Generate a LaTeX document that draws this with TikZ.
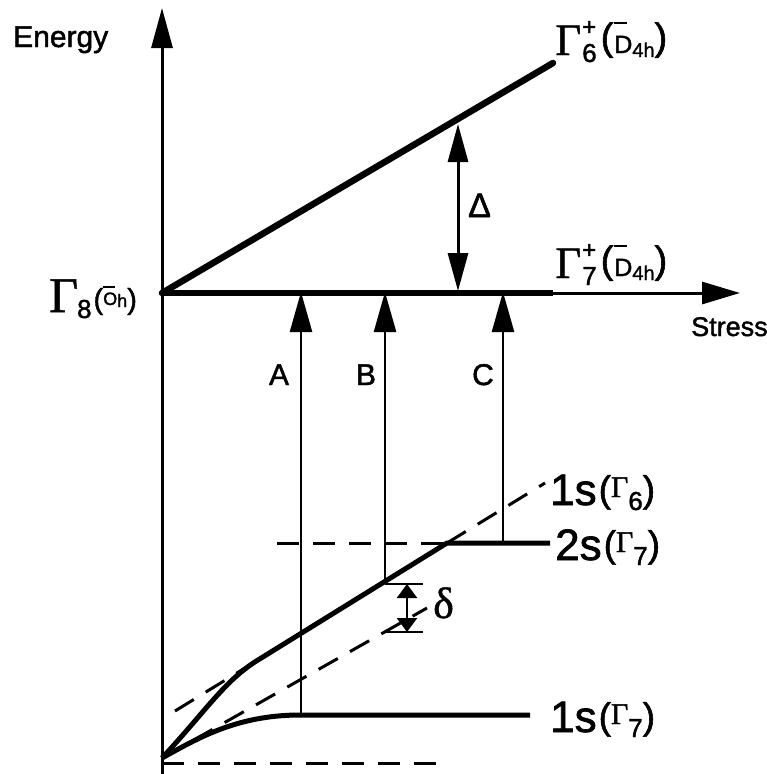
\documentclass[tikz,border=0pt]{standalone}
\usepackage{fontspec}
\setmainfont{Liberation Sans}[FakeBold=1.5]
\newfontfamily\serfont{Liberation Serif}[FakeBold=1]
\usetikzlibrary{arrows.meta}
\newcommand{\fs}[1]{\fontsize{#1pt}{#1pt}\selectfont}
\newcommand{\GamLbl}[1]{{\serfont\fs{45}Γ}\kern1pt\makebox[0pt][l]{\raisebox{20pt}{\fs{24}+}}\raisebox{-7pt}{\fs{26}#1}\kern4pt\raisebox{5pt}{\fs{38}(}\kern1pt\makebox[0pt][l]{\raisebox{31pt}{\rule{13pt}{2pt}}}\raisebox{2pt}{\fs{25}D}\raisebox{-2pt}{\fs{20}4h}\raisebox{5pt}{\fs{38})}}
\newcommand{\StLbl}[2]{{\fs{44}#1}\kern2pt\raisebox{3pt}{\fs{37}(}{\raisebox{8pt}{\serfont\fs{30}Γ}}\raisebox{-5pt}{\fs{26}#2}\raisebox{3pt}{\fs{37})}}
\begin{document}
\begin{tikzpicture}[x=1pt,y=-1pt,
  axis/.style={line width=3pt},
  thickline/.style={line width=6.5pt},
  curve/.style={line width=5pt,line join=round},
  dashline/.style={line width=3pt,dash pattern=on 22pt off 14pt},
  trans/.style={line width=2.5pt,-{Triangle[length=40pt,width=22pt]}},
  lbl/.style={inner sep=0pt,anchor=base west},
  clbl/.style={inner sep=0pt,anchor=base},
]
\useasboundingbox (0,0) rectangle (767,774);
% coordinates
\coordinate (O) at (162,293);
\coordinate (yb) at (162,774);
\coordinate (yt) at (162,8);
\coordinate (xt) at (740,293);
\coordinate (G6) at (553,63);
\coordinate (G7) at (553,293);
\coordinate (org) at (162,758);
\coordinate (D1) at (458,124);
\coordinate (D2) at (458,291);
\coordinate (La) at (175,711);
\coordinate (Lb) at (258,660);
\coordinate (Lc) at (447,543);
\coordinate (Ld) at (545,483);
\coordinate (S2a) at (277,543);
\coordinate (S2b) at (550,543);
\coordinate (low) at (427,608);
\coordinate (b1) at (162,763);
\coordinate (b2) at (445,763);
\coordinate (s1a) at (300,715);
\coordinate (s1b) at (530,715);
\coordinate (Aa) at (301,715);
\coordinate (Ab) at (301,292);
\coordinate (Ba) at (385,582);
\coordinate (Bb) at (385,292);
\coordinate (Ca) at (503,543);
\coordinate (Cb) at (503,292);
\coordinate (dT1) at (385,584);
\coordinate (dT2) at (423,584);
\coordinate (dB1) at (385,632);
\coordinate (dB2) at (423,632);
\coordinate (dA1) at (407,584);
\coordinate (dA2) at (407,632);
% axes
\draw[axis,-{Triangle[length=40pt,width=21pt]}] (yb) -- (yt);
\draw[axis,-{Triangle[length=38pt,width=22pt]}] (O) -- (xt);
\draw[thickline,line cap=round] (O) -- (G6);
\draw[thickline] (O) -- (G7);
% Delta
\draw[line width=3pt,{Triangle[length=38pt,width=20pt]}-{Triangle[length=38pt,width=20pt]}] (D1) -- (D2);
% dashed lines
\draw[dashline] (La) -- (Lb);
\draw[dashline] (Lc) -- (Ld);
\draw[dashline] (S2a) -- (Lc);
\draw[dashline] (org) -- (low);
\draw[dashline] (b1) -- (b2);
% curves
\draw[curve] (org) .. controls (205,712) and (225,680) .. (Lb) -- (Lc) -- (S2b);
\draw[curve] (org) .. controls (195,740) and (235,715) .. (s1a) -- (s1b);
% transitions
\draw[trans] (Aa) -- (Ab);
\draw[trans] (Ba) -- (Bb);
\draw[trans] (Ca) -- (Cb);
% delta small
\draw[line width=2.5pt] (dT1) -- (dT2);
\draw[line width=2.5pt] (dB1) -- (dB2);
\draw[line width=2.5pt,{Triangle[length=14pt,width=20pt]}-{Triangle[length=14pt,width=20pt]}] (dA1) -- (dA2);
% labels
\node[lbl] (energy) at (13,47) {\fs{30}Energy};
\node[lbl] (stress) at (691,336) {\fs{27}Stress};
\node[clbl] (lA) at (279,385) {\fs{30}A};
\node[clbl] (lB) at (366,385) {\fs{30}B};
\node[clbl] (lC) at (483,385) {\fs{30}C};
\node[lbl] (lDelta) at (468,217) {\fs{34}Δ};
\node[lbl] (ldelta) at (433,618) {\serfont\fs{44}δ};
\node[lbl] (lG6) at (555,55) {\GamLbl{6}};
\node[lbl] (lG7) at (555,278) {\GamLbl{7}};
\node[lbl] (lG8) at (49,312) {{\serfont\fs{50}Γ}\kern-1pt\raisebox{-6pt}{\fs{26}8}\kern2pt\raisebox{3pt}{\fs{29}(}\makebox[0pt][l]{\raisebox{24pt}{\rule{12pt}{2pt}}}\raisebox{7pt}{\fs{18}O}\raisebox{5pt}{\fs{18}h}\raisebox{3pt}{\fs{29})}};
\node[lbl] (l1s6) at (550,505) {\StLbl{1s}{6}};
\node[lbl] (l2s7) at (555,560) {\StLbl{2s}{7}};
\node[lbl] (l1s7) at (550,732) {\StLbl{1s}{7}};
\end{tikzpicture}
\end{document}
